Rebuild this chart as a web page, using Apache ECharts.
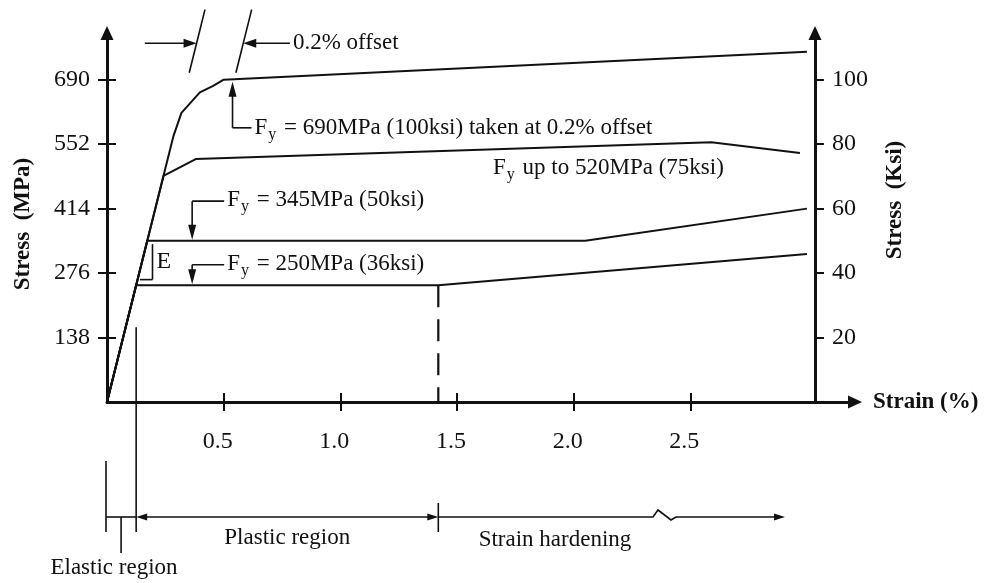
<!DOCTYPE html>
<html>
<head>
<meta charset="utf-8">
<title>Stress–strain curves of structural steels</title>
<script src="https://cdn.jsdelivr.net/npm/echarts@6/dist/echarts.min.js"></script>
<style>
  html, body { margin: 0; padding: 0; background: #ffffff; }
  #chart { width: 984px; height: 583px; }
</style>
</head>
<body>
<div id="chart"></div>
<script>
// Stress–strain curves (strain in %, stress in MPa)
const curve690Strain = [0, 0.284, 0.319, 0.398, 0.455, 0.5, 3.0];
const curve690Stress = [0, 568, 619, 663, 677, 690, 750];

const curve520Strain = [0, 0.242, 0.38, 2.59, 2.97];
const curve520Stress = [0, 484, 520, 556, 533];

const curve345Strain = [0, 0.1725, 2.05, 3.0];
const curve345Stress = [0, 345, 345, 414];

const curve250Strain = [0, 0.125, 1.42, 3.0];
const curve250Stress = [0, 250, 250, 317];

// Axis tick values
const mpaTicks = [138, 276, 414, 552, 690];
const ksiTicks = [20, 40, 60, 80, 100];
const strainTicks = [0.5, 1.0, 1.5, 2.0, 2.5];

// Region boundaries along the strain axis (%)
const elasticLimit = 0.125;
const hardeningStart = 1.42;

// Scale constants
const MPA_PER_KSI = 6.9;
const E_MPA_PER_PCT = 2000;   // elastic modulus, MPa per % strain
const STRESS_MAX = 790;       // MPa at the end of the stress axes
const STRAIN_MAX = 3.206;     // % at the end of the strain axis
const KSI_AXIS_STRAIN = 3.035;

const INK = '#111111';
const SERIF = '"Liberation Serif", "Times New Roman", serif';
const TEXT_PX = 23;

function pairs(xs, ys) { return xs.map((x, i) => [x, ys[i]]); }

const tickStyle = { color: INK, width: 2 };
const axisLineStyle = { color: INK, width: 3 };

function stressAxis(gridIndex, position, max, ticks, main) {
  return {
    type: 'value', gridIndex, position, min: 0, max,
    axisLine: main
      ? { show: true, onZero: false, symbol: ['none', 'triangle'], symbolSize: [13, 14], lineStyle: axisLineStyle }
      : { show: false },
    axisTick: { show: true, inside: !main, length: 9, lineStyle: tickStyle, customValues: ticks },
    axisLabel: main
      ? { show: true, customValues: ticks, margin: 17, fontFamily: SERIF, fontSize: 24, color: INK }
      : { show: false },
    splitLine: { show: false }
  };
}

function strainAxis(main) {
  return {
    type: 'value', gridIndex: 0, position: 'bottom', min: 0, max: STRAIN_MAX,
    name: main ? 'Strain (%)' : '',
    nameLocation: 'end', nameGap: 18,
    nameTextStyle: { fontFamily: SERIF, fontWeight: 'bold', fontSize: 23, color: INK, verticalAlign: 'middle' },
    axisLine: main
      ? { show: true, onZero: false, symbol: ['none', 'triangle'], symbolSize: [13, 14], lineStyle: axisLineStyle }
      : { show: false },
    axisTick: { show: true, inside: !main, length: 9, lineStyle: tickStyle, customValues: strainTicks },
    axisLabel: main
      ? { show: true, customValues: strainTicks, formatter: v => v.toFixed(1), margin: 28,
          fontFamily: SERIF, fontSize: 24, color: INK, padding: [0, 12, 0, 0] }
      : { show: false },
    splitLine: { show: false }
  };
}

function curve(name, xs, ys) {
  return {
    type: 'line', name, xAxisIndex: 0, yAxisIndex: 0,
    data: pairs(xs, ys), symbol: 'none', silent: true, clip: false,
    lineStyle: { color: INK, width: 2 }
  };
}

const chart = echarts.init(document.getElementById('chart'), null, { renderer: 'canvas' });

chart.setOption({
  backgroundColor: '#ffffff',
  animation: false,
  grid: [
    { left: 107, right: 129, top: 33, bottom: 181 },
    { left: 107, right: 169, top: 33, bottom: 181 }
  ],
  xAxis: [
    strainAxis(true),
    strainAxis(false),
    { type: 'value', gridIndex: 1, min: 0, max: KSI_AXIS_STRAIN, show: false }
  ],
  yAxis: [
    stressAxis(0, 'left', STRESS_MAX, mpaTicks, true),
    stressAxis(0, 'left', STRESS_MAX, mpaTicks, false),
    stressAxis(1, 'right', STRESS_MAX / MPA_PER_KSI, ksiTicks, true),
    stressAxis(1, 'right', STRESS_MAX / MPA_PER_KSI, ksiTicks, false)
  ],
  series: [
    curve('Fy 690 MPa', curve690Strain, curve690Stress),
    curve('Fy up to 520 MPa', curve520Strain, curve520Stress),
    curve('Fy 345 MPa', curve345Strain, curve345Stress),
    curve('Fy 250 MPa', curve250Strain, curve250Stress)
  ]
});

// ---- Annotations, anchored to the data scale ----
const P = (s, m) => chart.convertToPixel({ seriesIndex: 0 }, [s, m]);
const g = [];

function seg(x1, y1, x2, y2, w, dash) {
  g.push({ type: 'line', silent: true, shape: { x1, y1, x2, y2 },
           style: { stroke: INK, lineWidth: w || 1.6, lineDash: dash || null } });
}
function head(tx, ty, dx, dy, len, hw) {
  len = len || 13; hw = hw || 4.5;
  const L = Math.hypot(dx, dy), ux = dx / L, uy = dy / L;
  const bx = tx - ux * len, by = ty - uy * len;
  g.push({ type: 'polygon', silent: true,
           shape: { points: [[tx, ty], [bx - uy * hw, by + ux * hw], [bx + uy * hw, by - ux * hw]] },
           style: { fill: INK } });
}
function label(x, y, text, opt) {
  opt = opt || {};
  g.push({ type: 'text', silent: true, x, y, rotation: opt.rot || 0,
           style: { text, fill: INK, font: opt.font || (TEXT_PX + 'px ' + SERIF),
                    align: opt.align || 'left', verticalAlign: 'middle', rich: opt.rich } });
}
// F with subscript y
const fyRich = {
  f: { fontSize: TEXT_PX, fontFamily: SERIF, color: INK },
  s: { fontSize: 16, fontFamily: SERIF, color: INK, padding: [14, 2, 0, 1] },
  t: { fontSize: TEXT_PX, fontFamily: SERIF, color: INK }
};
function fyLabel(x, y, rest) {
  label(x, y, '{f|F}{s|y}{t|' + rest + '}', { rich: fyRich });
}

// 0.2 % offset markers parallel to the elastic line
const slashLow = 705, slashHigh = 840, arrowLevel = 768;
[0, 0.2].forEach(off => {
  const a = P(slashLow / E_MPA_PER_PCT + off, slashLow);
  const b = P(slashHigh / E_MPA_PER_PCT + off, slashHigh);
  seg(a[0], a[1], b[0], b[1], 1.6);
});
{
  const t1 = P(arrowLevel / E_MPA_PER_PCT, arrowLevel);
  const t2 = P(arrowLevel / E_MPA_PER_PCT + 0.2, arrowLevel);
  const l0 = P(0.162, arrowLevel), r0 = P(0.784, arrowLevel);
  seg(l0[0], l0[1], t1[0] - 6, t1[1]); head(t1[0], t1[1], 1, 0);
  seg(r0[0], r0[1], t2[0] + 6, t2[1]); head(t2[0], t2[1], -1, 0);
  label(r0[0] + 3, r0[1], '0.2% offset');
}

// Yield callouts
{
  const tip = P(0.538, 690);
  const cy = P(0, 587)[1];
  seg(tip[0], tip[1] + 2 + 6, tip[0], cy); head(tip[0], tip[1] + 2, 0, -1, 15, 4);
  seg(tip[0], cy, tip[0] + 19, cy);
  fyLabel(tip[0] + 22, cy, ' = 690MPa (100ksi) taken at 0.2% offset');
}
{
  const x = P(0.365, 0)[0];
  [[345, 430], [250, 294]].forEach(([fy, corner]) => {
    const ty = P(0, fy)[1] - 1, cy = P(0, corner)[1];
    seg(x, cy, x, ty - 6); head(x, ty, 0, 1, 15, 4);
    seg(x, cy, x + 32, cy);
    fyLabel(x + 35, cy - 1, ' = ' + fy + 'MPa (' + Math.round(fy / MPA_PER_KSI) + 'ksi)');
  });
}
fyLabel(493, 168, ' up to 520MPa (75ksi)');

// Elastic modulus bracket
{
  const top = P(0.195, 338), bot = P(0.195, 262), left = P(0.141, 262);
  seg(top[0], top[1], bot[0], bot[1], 1.6);
  seg(left[0], bot[1], bot[0], bot[1], 1.6);
  label(bot[0] + 4, (top[1] + bot[1]) / 2, 'E', { font: '24px ' + SERIF });
}

// Onset of strain hardening
{
  const a = P(hardeningStart, 250), b = P(hardeningStart, 0);
  seg(a[0], a[1], b[0], b[1], 2.2, [22, 12]);
}

// Region brackets below the strain axis
{
  const yBar = 517;
  const x0 = P(0, 0)[0] - 1;
  const xE = P(elasticLimit, 0)[0];
  const xH = P(hardeningStart, 0)[0];
  const topE = P(elasticLimit, 160)[1];
  seg(xE, topE, xE, 532, 1.6);
  seg(x0, 461, x0, 532, 1.6);
  seg(x0, yBar, xE, yBar, 1.6);
  seg((x0 + xE) / 2, yBar, (x0 + xE) / 2, 553, 1.6);
  label(114, 568, 'Elastic region', { align: 'center' });

  seg(xE + 8, yBar, xH - 8, yBar, 1.6);
  head(xE, yBar, -1, 0, 11, 3.5);
  head(xH, yBar, 1, 0, 11, 3.5);
  seg(xH, 503, xH, 532, 1.6);
  label((xE + xH) / 2, 538, 'Plastic region', { align: 'center' });

  g.push({ type: 'polyline', silent: true,
           shape: { points: [[xH, yBar], [653, yBar], [658, 510], [671, 520], [676, yBar], [776, yBar]] },
           style: { stroke: INK, lineWidth: 1.6, fill: null } });
  head(785, yBar, 1, 0, 11, 3.5);
  label(555, 540, 'Strain hardening', { align: 'center' });
}

// Axis titles for the stress scales
label(23, 224, 'Stress  (MPa)', { rot: Math.PI / 2, align: 'center', font: 'bold 23px ' + SERIF });
label(895, 200, 'Stress  (Ksi)', { rot: Math.PI / 2, align: 'center', font: 'bold 23px ' + SERIF });

chart.setOption({ graphic: { elements: g } });
</script>
</body>
</html>
